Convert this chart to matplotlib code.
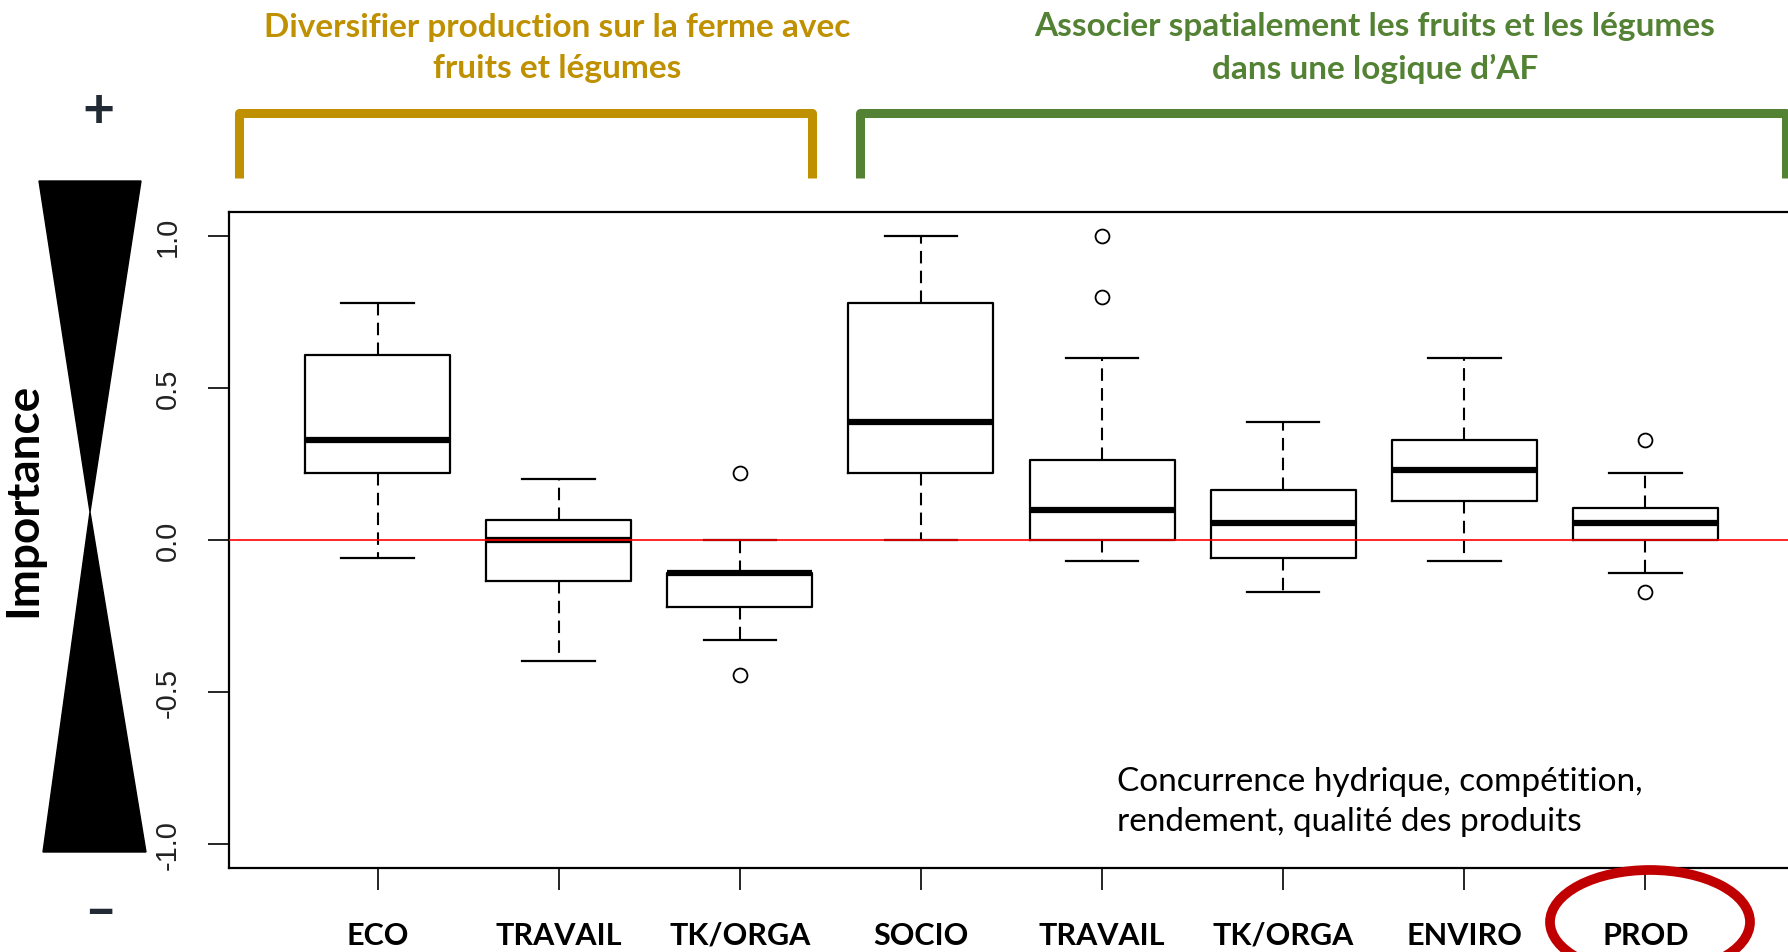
import matplotlib.pyplot as plt
from matplotlib.patches import Polygon, Ellipse

W, H = 1788, 953

# Box statistics
categories = ['ECO', 'TRAVAIL', 'TK/ORGA', 'SOCIO', 'TRAVAIL', 'TK/ORGA', 'ENVIRO', 'PROD']
whisker_low = [-0.06, -0.40, -0.33, 0.00, -0.07, -0.17, -0.07, -0.11]
q1 = [0.22, -0.135, -0.22, 0.22, 0.00, -0.06, 0.13, 0.00]
medians = [0.33, 0.00, -0.11, 0.39, 0.10, 0.055, 0.23, 0.055]
q3 = [0.61, 0.065, -0.11, 0.78, 0.265, 0.165, 0.33, 0.105]
whisker_high = [0.78, 0.20, 0.00, 1.00, 0.60, 0.39, 0.60, 0.22]
outliers = [[], [], [0.22, -0.445], [], [1.00, 0.80], [], [], [0.33, -0.17]]
y_ticks = [-1.0, -0.5, 0.0, 0.5, 1.0]

group_titles = ['Diversifier production sur la ferme avec\nfruits et légumes',
                'Associer spatialement les fruits et les légumes\ndans une logique d\u2019AF']
note = 'Concurrence hydrique, compétition,\nrendement, qualité des produits'

GOLD = '#BF9000'
GREEN = '#548235'
FONT = ['Lato', 'DejaVu Sans']

fig = plt.figure(figsize=(W / 100, H / 100), dpi=100)

# main boxplot axes (right edge runs just past the image, as in the original)
ax = fig.add_axes([229 / W, 1 - 869 / H, 1565 / W, 656 / H])

stats = []
for i in range(len(categories)):
    stats.append(dict(whislo=whisker_low[i], q1=q1[i], med=medians[i],
                      q3=q3[i], whishi=whisker_high[i], fliers=outliers[i]))

pos = list(range(1, len(categories) + 1))
ax.bxp(stats, positions=pos, widths=0.8, capwidths=0.4,
       boxprops=dict(color='black', lw=1.6),
       whiskerprops=dict(color='black', lw=1.5, linestyle=(0, (6, 3.5))),
       capprops=dict(color='black', lw=1.6),
       medianprops=dict(color='black', lw=4.5),
       flierprops=dict(marker='o', mfc='none', mec='black', ms=10, mew=1.3))

ax.axhline(0, color='red', lw=1.2, zorder=5)

ax.set_xlim(0.18, 8.82)
ax.set_ylim(-1.08, 1.08)
ax.set_yticks(y_ticks)
ax.set_yticklabels(['%.1f' % v for v in y_ticks], rotation=90, va='center',
                   fontsize=21, family='Liberation Sans', color='#222222')
ax.set_xticks(pos)
ax.set_xticklabels(categories, fontsize=22, fontweight='bold', family=FONT)
ax.tick_params(axis='x', length=16, width=1.2, pad=22)
ax.tick_params(axis='y', length=15, width=1.2, pad=19)
for s in ax.spines.values():
    s.set_linewidth(1.6)

# overlay in pixel coordinates for the slide decorations
ov = fig.add_axes([0, 0, 1, 1], zorder=5)
ov.set_xlim(0, W)
ov.set_ylim(H, 0)
ov.axis('off')
ov.patch.set_alpha(0)

ov.text(557, 48, group_titles[0], color=GOLD, fontsize=24, fontweight='bold',
        family=FONT, ha='center', va='center', linespacing=1.5)
ov.text(1375, 48, group_titles[1], color=GREEN, fontsize=24, fontweight='bold',
        family=FONT, ha='center', va='center', linespacing=1.5)

# brackets
ov.plot([239, 239, 812, 812], [179, 114, 114, 179], color=GOLD, lw=6.5,
        solid_joinstyle='round', solid_capstyle='butt')
ov.plot([860, 860, 1786, 1786], [179, 114, 114, 179], color=GREEN, lw=6.5,
        solid_joinstyle='round', solid_capstyle='butt')

# hourglass
ov.add_patch(Polygon([(39, 182), (141, 182), (90, 513)], closed=True, color='black'))
ov.add_patch(Polygon([(43, 853), (146, 853), (90, 513)], closed=True, color='black'))
ov.text(98, 112, '+', fontsize=40, fontweight='bold', color='#222A35',
        ha='center', va='center', family=FONT)
ov.text(100, 912, '\u2013', fontsize=40, fontweight='bold', color='#222A35',
        ha='center', va='center', family=FONT)
ov.text(23, 500, 'Importance', rotation=90, fontsize=33, fontweight='bold',
        ha='center', va='center', family=FONT)

ov.text(1117, 802, note, fontsize=24, family=FONT, ha='left', va='center',
        linespacing=1.4)

ov.add_patch(Ellipse((1650, 923), 200, 104, fill=False, ec='#C00000', lw=7))

fig.savefig('out.png', dpi=100)
